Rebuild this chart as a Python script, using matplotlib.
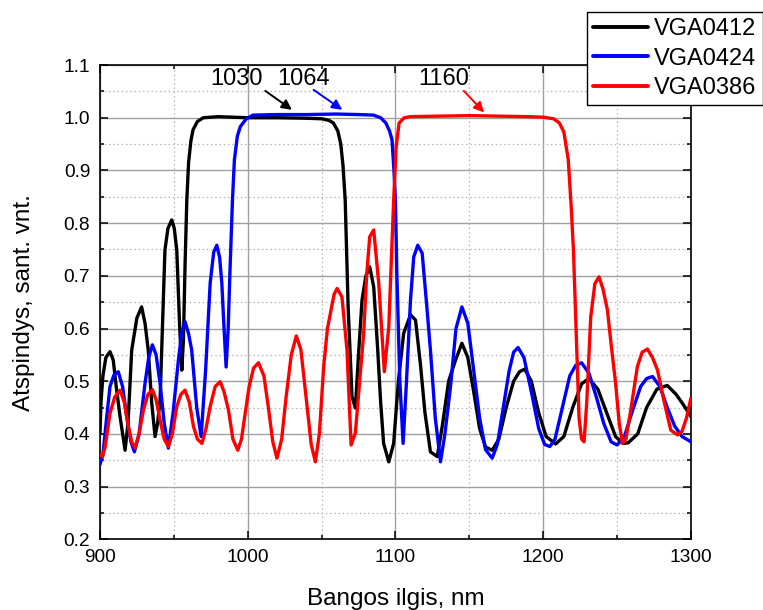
import matplotlib
matplotlib.use("Agg")
import matplotlib.pyplot as plt
from matplotlib.ticker import MultipleLocator

plt.rcParams["font.family"] = ["Liberation Sans", "DejaVu Sans"]

# Reflectance spectra of three mirror samples
wl_0412 = [900, 900.7, 902, 904, 906.8, 909, 911, 913.6, 917, 919, 921.5, 925, 928.2, 930.5, 932.7,
           935, 937.3, 939, 940.7, 942.5, 944, 946, 948.6, 950.3, 952, 954, 955.4, 956.5, 957.6,
           958.8, 960, 961.5, 963, 966, 970, 980, 1000, 1020, 1040, 1050, 1055, 1058, 1061, 1063,
           1064.5, 1066, 1068, 1070.6, 1072.9, 1075, 1077.4, 1080, 1082.6, 1085.3, 1088, 1090, 1092,
           1095.5, 1098.8, 1102, 1105.6, 1110.2, 1113.6, 1117, 1120, 1123.7, 1128.3, 1132, 1136,
           1140.7, 1145, 1149, 1153, 1157, 1161, 1165.5, 1170, 1175, 1180, 1184, 1187.5, 1192, 1197,
           1202, 1208.5, 1214, 1220, 1226, 1231, 1237, 1243, 1249, 1254, 1257.5, 1264, 1270, 1277,
           1284, 1290, 1295, 1300]
r_0412 = [0.40, 0.46, 0.51, 0.545, 0.556, 0.54, 0.49, 0.433, 0.369, 0.42, 0.559, 0.62, 0.641, 0.61,
          0.559, 0.46, 0.395, 0.42, 0.464, 0.62, 0.749, 0.79, 0.806, 0.79, 0.749, 0.60, 0.521, 0.578,
          0.72, 0.844, 0.915, 0.955, 0.977, 0.993, 1.0, 1.002, 1.0, 1.0, 0.999, 0.998, 0.995, 0.99,
          0.975, 0.95, 0.91, 0.844, 0.64, 0.471, 0.449, 0.55, 0.654, 0.70, 0.717, 0.679, 0.56, 0.46,
          0.382, 0.347, 0.382, 0.50, 0.591, 0.626, 0.616, 0.53, 0.44, 0.366, 0.357, 0.42, 0.50, 0.54,
          0.572, 0.545, 0.48, 0.41, 0.375, 0.369, 0.39, 0.45, 0.50, 0.518, 0.523, 0.50, 0.44, 0.395,
          0.381, 0.395, 0.45, 0.495, 0.505, 0.485, 0.44, 0.395, 0.382, 0.383, 0.40, 0.45, 0.485,
          0.492, 0.475, 0.455, 0.433]

wl_0424 = [900, 902, 904.5, 906.8, 909.5, 912.4, 915.3, 918.1, 921, 923.3, 926.5, 930.5, 933, 935.5,
           938, 940.7, 943.5, 946.3, 949.5, 953.1, 955.5, 957.6, 960, 962.1, 965.5, 968.5, 971.5,
           974.6, 977, 979.1, 981, 982.5, 984, 985.4, 986.8, 988.1, 989.7, 991, 993, 995, 999,
           1003.7, 1020, 1040, 1060, 1075, 1085, 1090, 1093.5, 1096, 1097.7, 1099, 1100, 1101, 1103,
           1105.2, 1107.5, 1110.2, 1112.4, 1115.1, 1118.1, 1121, 1123.7, 1127, 1130.5, 1133.5, 1137.3,
           1141, 1145, 1149, 1153, 1157, 1161, 1165.5, 1169, 1173, 1177, 1180, 1183, 1187, 1192, 1197,
           1201, 1204.5, 1208, 1213, 1218, 1222, 1226, 1231, 1236, 1241, 1246, 1250, 1255, 1260, 1266,
           1270, 1274, 1279, 1284, 1289, 1294, 1300]
r_0424 = [0.342, 0.36, 0.43, 0.49, 0.512, 0.518, 0.49, 0.433, 0.385, 0.366, 0.40, 0.496, 0.545,
          0.569, 0.55, 0.496, 0.42, 0.373, 0.44, 0.54, 0.595, 0.613, 0.59, 0.559, 0.45, 0.395, 0.52,
          0.686, 0.745, 0.758, 0.735, 0.686, 0.60, 0.527, 0.60, 0.717, 0.844, 0.92, 0.965, 0.983,
          0.998, 1.005, 1.006, 1.006, 1.007, 1.006, 1.005, 1.0, 0.99, 0.975, 0.958, 0.90, 0.844,
          0.70, 0.50, 0.382, 0.50, 0.654, 0.736, 0.758, 0.743, 0.65, 0.559, 0.43, 0.347, 0.40, 0.49,
          0.60, 0.641, 0.61, 0.52, 0.43, 0.37, 0.354, 0.38, 0.45, 0.52, 0.555, 0.564, 0.545, 0.48,
          0.41, 0.38, 0.376, 0.39, 0.45, 0.51, 0.53, 0.535, 0.515, 0.47, 0.42, 0.385, 0.379, 0.395,
          0.44, 0.49, 0.505, 0.509, 0.49, 0.45, 0.415, 0.395, 0.385]

wl_0386 = [900, 901.7, 903.5, 906.8, 910, 913.6, 916.5, 919.2, 921.5, 923.7, 926.5, 929.4, 932.5,
           935.5, 938, 940.7, 943.5, 946.3, 949, 952, 954.8, 957.6, 960.5, 963.3, 966, 969, 971.8,
           974.6, 978, 981.4, 984, 987, 990, 993.3, 995.8, 998.3, 1001, 1004, 1007.3, 1011, 1014,
           1017, 1019.8, 1023, 1026, 1029.5, 1032.9, 1036, 1039.5, 1043, 1045.8, 1048.5, 1051.5,
           1054, 1056, 1058.5, 1060.5, 1063.8, 1067.2, 1070, 1072.9, 1075.5, 1078.5, 1080.5, 1082.6,
           1085.3, 1088.7, 1092.5, 1095.5, 1098.8, 1100.5, 1102.5, 1106, 1110, 1130, 1150, 1170,
           1190, 1200, 1207, 1211, 1214, 1217, 1219, 1220.5, 1222.5, 1224.3, 1226, 1227.7, 1229.5,
           1232.2, 1235, 1237.8, 1240.5, 1243.5, 1246, 1249, 1251.5, 1253.7, 1256, 1259, 1263.8, 1267,
           1270.6, 1274, 1277.4, 1282, 1286.4, 1291, 1294, 1297, 1300]
r_0386 = [0.36, 0.357, 0.375, 0.439, 0.47, 0.483, 0.46, 0.414, 0.385, 0.373, 0.40, 0.445, 0.475,
          0.484, 0.465, 0.426, 0.39, 0.376, 0.40, 0.452, 0.475, 0.483, 0.46, 0.414, 0.39, 0.382,
          0.41, 0.452, 0.49, 0.499, 0.48, 0.445, 0.39, 0.369, 0.39, 0.439, 0.49, 0.525, 0.535, 0.51,
          0.45, 0.385, 0.354, 0.39, 0.47, 0.55, 0.586, 0.56, 0.47, 0.38, 0.347, 0.40, 0.53, 0.60,
          0.629, 0.665, 0.676, 0.66, 0.559, 0.379, 0.402, 0.49, 0.59, 0.70, 0.774, 0.787, 0.686,
          0.518, 0.603, 0.844, 0.945, 0.99, 1.0, 1.002, 1.003, 1.004, 1.003, 1.002, 1.001, 0.998,
          0.99, 0.973, 0.92, 0.83, 0.749, 0.58, 0.43, 0.39, 0.385, 0.46, 0.622, 0.685, 0.698, 0.675,
          0.635, 0.57, 0.497, 0.42, 0.382, 0.39, 0.44, 0.528, 0.555, 0.561, 0.545, 0.521, 0.46,
          0.407, 0.398, 0.405, 0.43, 0.468]

series_names = ["VGA0412", "VGA0424", "VGA0386"]
series_colors = ["#000000", "#0000ff", "#ff0000"]

# Arrow labels marking the working wavelengths
mark_labels = ["1030", "1064", "1160"]
mark_wl = [1030, 1064, 1160]
mark_tip_r = [1.015, 1.015, 1.010]

fig = plt.figure(figsize=(7.63, 6.10), dpi=100)
ax = fig.add_axes([0.131, 0.1159, 0.7745, 0.7775])

for wl, r, name, col in zip([wl_0412, wl_0424, wl_0386], [r_0412, r_0424, r_0386],
                            series_names, series_colors):
    ax.plot(wl, r, color=col, lw=2.4, label=name, zorder=3,
            solid_joinstyle="round", solid_capstyle="round")

ax.set_xlim(900, 1300)
ax.set_ylim(0.2, 1.1)
ax.xaxis.set_major_locator(MultipleLocator(100))
ax.xaxis.set_minor_locator(MultipleLocator(50))
ax.yaxis.set_major_locator(MultipleLocator(0.1))
ax.yaxis.set_minor_locator(MultipleLocator(0.05))
ax.yaxis.set_major_formatter(matplotlib.ticker.FormatStrFormatter("%.1f"))

ax.grid(True, which="major", color="#a0a0a0", lw=1.0, ls="-", zorder=0)
ax.grid(True, which="minor", color="#b4b4b4", lw=0.9, ls=(0, (1.2, 2.2)), zorder=0)
ax.set_axisbelow(True)

ax.tick_params(which="both", direction="in", top=True, right=True, width=1.1,
               labelsize=13.8, pad=7)
ax.tick_params(which="major", length=5.8)
ax.tick_params(which="minor", length=3.0)
for sp in ax.spines.values():
    sp.set_linewidth(1.2)

ax.set_xlabel("Bangos ilgis, nm", fontsize=17.5)
ax.set_ylabel("Atspindys, sant. vnt.", fontsize=17.5)
ax.xaxis.set_label_coords(0.5, -0.103)
ax.yaxis.set_label_coords(-0.11, 0.5)

# arrow tails and label anchors, offset from each tip
tail_dx = [-18.1, -19.4, -13.7]
tail_dr = [0.036, 0.038, 0.041]
text_dx = [-37.3, -26.2, -27.3]
text_dr = [0.058, 0.058, 0.063]
for lab, x0, r0, col, tdx, tdr, lx, lr in zip(mark_labels, mark_wl, mark_tip_r, series_colors,
                                             tail_dx, tail_dr, text_dx, text_dr):
    ax.annotate("", xy=(x0, r0), xytext=(x0 + tdx, r0 + tdr),
                arrowprops=dict(arrowstyle="-|>", color=col, lw=1.4, mutation_scale=15,
                                shrinkA=0, shrinkB=0), zorder=4)
    ax.text(x0 + lx, r0 + lr, lab, fontsize=17, ha="center", va="center", zorder=4)

leg = ax.legend(loc="upper left", bbox_to_anchor=(0.769, 0.980), bbox_transform=fig.transFigure,
                fontsize=17, frameon=True, fancybox=False, framealpha=1, edgecolor="black",
                borderpad=0.25, handlelength=2.33, handletextpad=0.28, labelspacing=0.32,
                borderaxespad=0)
leg.get_frame().set_linewidth(1.0)
for ln in leg.get_lines():
    ln.set_linewidth(2.8)

fig.savefig("out.png", dpi=100)
